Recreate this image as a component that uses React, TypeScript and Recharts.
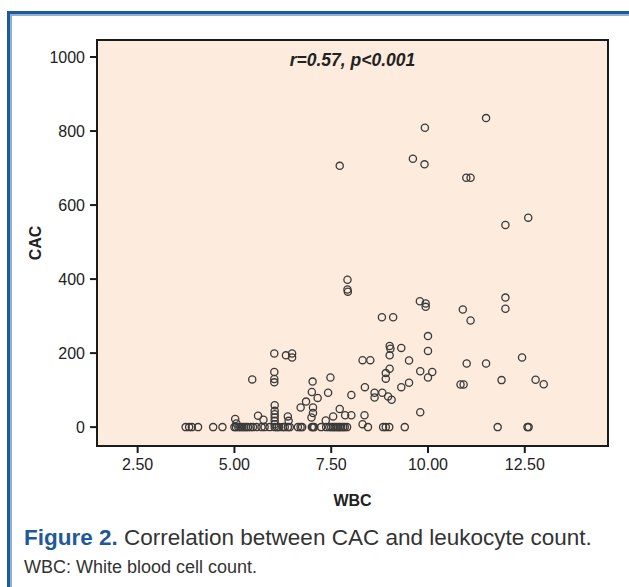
import { ScatterChart, Scatter, XAxis, YAxis, CartesianGrid, ReferenceArea } from 'recharts';

// WBC values of patients with CAC = 0 (the crowded bottom row)
const zeroRowWbc = [
  3.74, 3.83, 3.9, 4.06, 4.45, 4.69, 5.0, 5.04, 5.1, 5.15, 5.2, 5.25, 5.3, 5.35,
  5.42, 5.48, 5.57, 5.7, 5.78, 5.91, 6.04, 6.1, 6.15, 6.25, 6.3, 6.38, 6.43, 6.64,
  6.71, 6.75, 7.0, 7.03, 7.06, 7.24, 7.37, 7.45, 7.5, 7.55, 7.59, 7.64, 7.68, 7.72,
  7.76, 7.81, 7.85, 7.91, 8.45, 8.84, 8.91, 9.0, 9.4, 11.8, 12.57, 12.6,
];

// remaining patients, paired by index
const wbc = [
  5.02, 5.05, 5.46, 5.61, 5.75,
  6.03, 6.33, 6.49, 6.49, 6.03, 6.03, 6.03, 6.04, 6.04, 6.04, 6.04, 6.04, 6.04,
  6.38, 6.4,
  6.71, 6.85, 6.99, 7.0, 7.02, 7.03, 7.03, 7.15, 7.36, 7.42, 7.48, 7.55, 7.72, 7.86,
  8.02, 8.02, 7.72,
  7.92, 7.92, 7.93,
  8.31, 8.51, 8.37, 8.36, 8.31, 8.62, 8.62, 8.82, 8.97, 9.06,
  8.81, 9.1,
  8.91, 8.91, 9.01, 9.01, 9.01, 9.03, 9.31, 9.51, 9.31, 9.51,
  9.61, 9.91, 9.92,
  9.79, 9.94, 9.94, 10.0, 10.0, 9.8, 10.0, 10.11, 9.8,
  10.84, 10.92, 10.9, 11.1, 11.0, 11.5, 10.99, 11.1, 11.5,
  11.9, 12.0, 12.0, 12.0, 12.43, 12.59, 12.78, 12.99,
];
const cac = [
  22, 10, 129, 31, 20,
  199, 194, 199, 188, 149, 130, 121, 59, 44, 35, 26, 17, 8,
  29, 17,
  53, 69, 26, 95, 123, 53, 38, 79, 18, 93, 134, 29, 49, 32,
  32, 87, 706,
  398, 372, 366,
  181, 181, 108, 32, 8, 93, 80, 93, 83, 74,
  297, 297,
  146, 131, 158, 194, 219, 212, 214, 180, 108, 120,
  725, 710, 809,
  340, 334, 325, 246, 206, 151, 134, 149, 40,
  115, 115, 318, 288, 172, 172, 674, 674, 835,
  127, 546, 350, 320, 188, 566, 128, 116,
];

const xTicks = [2.5, 5, 7.5, 10, 12.5];
const yTicks = [0, 200, 400, 600, 800, 1000];
const xDomain = [1.45, 14.65];
const yDomain = [-51, 1046];

const points = [
  ...zeroRowWbc.map((x) => ({ x, y: 0 })),
  ...wbc.map((x, i) => ({ x, y: cac[i] })),
];

const FONT = 'Liberation Sans, Arial, Helvetica, sans-serif';
const BLUE = '#1f5a98';

const OpenCircle = (props: { cx?: number; cy?: number }) => {
  const { cx, cy } = props;
  if (cx == null || cy == null) return null;
  return <circle cx={cx} cy={cy} r={3.6} fill="none" stroke="#3a3a3a" strokeWidth={1.3} />;
};

export default function App() {
  return (
    <div
      style={{
        position: 'absolute',
        top: 0,
        left: 0,
        width: 629,
        height: 587,
        background: '#fff',
        overflow: 'hidden',
        fontFamily: FONT,
      }}
    >
      {/* figure frame */}
      <div
        style={{
          position: 'absolute',
          top: 11,
          left: 7,
          width: 700,
          height: 700,
          borderTop: `3px solid ${BLUE}`,
          borderLeft: `3px solid ${BLUE}`,
        }}
      >
        <div
          style={{
            position: 'absolute',
            top: 0,
            left: 0,
            right: 0,
            bottom: 0,
            borderTop: '2px solid #8eb0d3',
            borderLeft: '2px solid #8eb0d3',
          }}
        />
      </div>

      <div style={{ position: 'absolute', top: 0, left: 0 }}>
        <ScatterChart
          width={629}
          height={520}
          margin={{ top: 40, right: 21, bottom: 12, left: 0 }}
        >
          <CartesianGrid fill="#fdebdd" horizontal={false} vertical={false} />
          <ReferenceArea
            x1={xDomain[0]}
            x2={xDomain[1]}
            y1={yDomain[0]}
            y2={yDomain[1]}
            fill="none"
            stroke="#1a1a1a"
            strokeWidth={2}
            ifOverflow="extendDomain"
          />
          <XAxis
            type="number"
            dataKey="x"
            domain={xDomain}
            ticks={xTicks}
            tickFormatter={(v: number) => v.toFixed(2)}
            height={62}
            tickSize={7}
            tickMargin={6}
            axisLine={{ stroke: '#1a1a1a', strokeWidth: 2 }}
            tickLine={{ stroke: '#1a1a1a', strokeWidth: 2 }}
            tick={{ fill: '#222', fontSize: 16, fontFamily: FONT }}
            label={{
              value: 'WBC',
              position: 'insideBottom',
              offset: 2,
              style: { fill: '#222', fontSize: 16, fontWeight: 'bold', fontFamily: FONT },
            }}
          />
          <YAxis
            type="number"
            dataKey="y"
            domain={yDomain}
            ticks={yTicks}
            width={97}
            tickSize={7}
            tickMargin={5}
            axisLine={{ stroke: '#1a1a1a', strokeWidth: 2 }}
            tickLine={{ stroke: '#1a1a1a', strokeWidth: 2 }}
            tick={{ fill: '#222', fontSize: 16, fontFamily: FONT }}
            label={{
              value: 'CAC',
              angle: -90,
              position: 'insideLeft',
              offset: 35,
              style: {
                fill: '#222',
                fontSize: 16,
                fontWeight: 'bold',
                fontFamily: FONT,
                textAnchor: 'middle',
              },
            }}
          />
          <Scatter data={points} shape={<OpenCircle />} isAnimationActive={false} />
        </ScatterChart>
      </div>

      <div
        style={{
          position: 'absolute',
          left: 97,
          width: 511,
          top: 50,
          textAlign: 'center',
          fontSize: 17.5,
          fontWeight: 'bold',
          fontStyle: 'italic',
          color: '#222',
        }}
      >
        r=0.57, p&lt;0.001
      </div>

      <div
        style={{
          position: 'absolute',
          left: 24,
          top: 525,
          fontSize: 22.5,
          color: '#333',
          whiteSpace: 'nowrap',
        }}
      >
        <span style={{ color: BLUE, fontWeight: 'bold' }}>Figure 2.</span> Correlation between CAC
        and leukocyte count.
      </div>
      <div
        style={{
          position: 'absolute',
          left: 24,
          top: 557,
          fontSize: 18,
          color: '#333',
          whiteSpace: 'nowrap',
        }}
      >
        WBC: White blood cell count.
      </div>
    </div>
  );
}
